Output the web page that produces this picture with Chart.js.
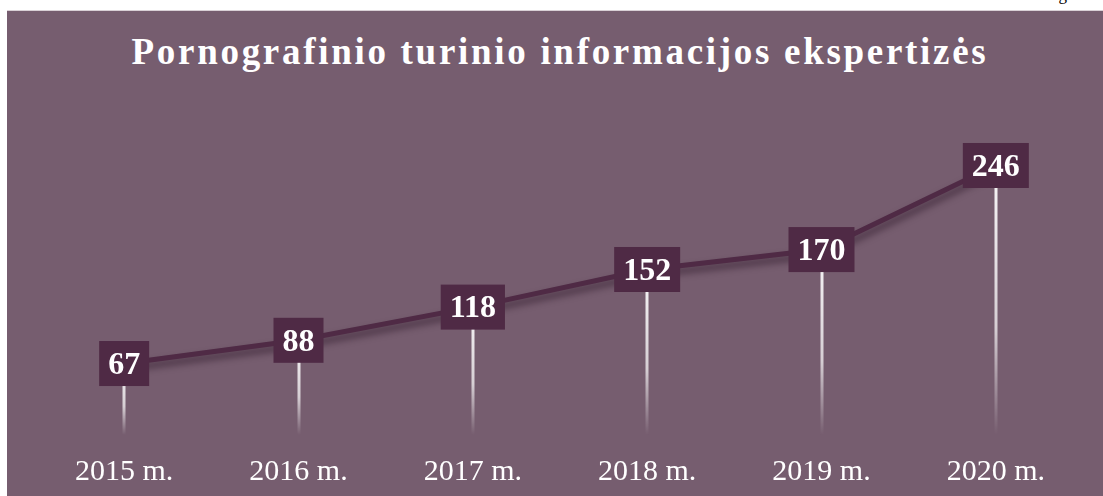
<!DOCTYPE html>
<html>
<head>
<meta charset="utf-8">
<script src="https://cdn.jsdelivr.net/npm/chart.js@4"></script>
<style>
  html, body { margin: 0; padding: 0; background: #fff; }
  body { width: 1103px; height: 496px; position: relative; overflow: hidden; }
  #panel { position: absolute; left: 7px; top: 10px; width: 1096px; height: 486px; background: #765d6f; border-top: 1px solid #d9d0d6; box-sizing: border-box; }
  #wrap { position: absolute; left: 0; top: 0; width: 1103px; height: 496px; }
  #title { position: absolute; left: 12px; width: 1096px; top: 33px; line-height: 37px; text-align: center; color: #fff;
    font-family: "Liberation Serif", "Times New Roman", serif; font-weight: bold; font-size: 37px; letter-spacing: 2.7px; }
  #corner { position: absolute; right: 2px; top: -15px; font-family: "Liberation Serif", serif; font-size: 17px; color: #000; }
</style>
</head>
<body>
<div id="corner">1 diagrama</div>
<div id="panel"></div>
<div id="title">Pornografinio turinio informacijos ekspertizės</div>
<div id="wrap"><canvas id="chart" width="1103" height="496"></canvas></div>
<script>
const years = ["2015 m.", "2016 m.", "2017 m.", "2018 m.", "2019 m.", "2020 m."];
const values = [67, 88, 118, 152, 170, 246];

const lineColor = "#4f2a45";

// drop lines from each point down to the bottom of the plot, plus the value boxes
const markers = {
  id: "markers",
  beforeDatasetsDraw(chart) {
    const ctx = chart.ctx;
    const meta = chart.getDatasetMeta(0);
    const bottom = chart.chartArea.bottom;
    ctx.save();
    meta.data.forEach(pt => {
      const g = ctx.createLinearGradient(0, pt.y, 0, bottom);
      g.addColorStop(0, "rgba(255,255,255,0.95)");
      g.addColorStop(0.6, "rgba(255,255,255,0.7)");
      g.addColorStop(1, "rgba(255,255,255,0)");
      ctx.fillStyle = g;
      ctx.fillRect(Math.round(pt.x) - 1.5, pt.y, 3, bottom - pt.y);
    });
    ctx.restore();
  },
  beforeDatasetDraw(chart) {
    const ctx = chart.ctx;
    ctx.save();
    ctx.shadowColor = "rgba(30,10,25,0.55)";
    ctx.shadowBlur = 7;
    ctx.shadowOffsetX = 2;
    ctx.shadowOffsetY = 5;
  },
  afterDatasetDraw(chart) {
    chart.ctx.restore();
  },
  afterDatasetsDraw(chart) {
    const ctx = chart.ctx;
    const meta = chart.getDatasetMeta(0);
    ctx.save();
    ctx.font = "bold 32px 'Liberation Serif', 'Times New Roman', serif";
    ctx.textAlign = "center";
    ctx.textBaseline = "middle";
    meta.data.forEach((pt, i) => {
      const txt = String(values[i]);
      const w = ctx.measureText(txt).width + 18;
      const h = 45;
      ctx.fillStyle = lineColor;
      ctx.fillRect(pt.x - w / 2, pt.y - h / 2, w, h);
      ctx.fillStyle = "#fff";
      ctx.fillText(txt, pt.x, pt.y + 2);
    });
    ctx.restore();
  }
};

new Chart(document.getElementById("chart").getContext("2d"), {
  type: "line",
  data: {
    labels: years,
    datasets: [{
      data: values,
      borderColor: lineColor,
      borderWidth: 5,
      pointRadius: 0,
      tension: 0,
      fill: false
    }]
  },
  options: {
    responsive: false,
    animation: false,
    layout: { padding: { left: 37, right: 20, top: 100, bottom: 0 } },
    plugins: { legend: { display: false }, title: { display: false }, tooltip: { enabled: false } },
    scales: {
      x: {
        offset: true,
        grid: { display: false },
        border: { display: false },
        ticks: { color: "#fff", padding: 11, font: { family: "'Liberation Serif', 'Times New Roman', serif", size: 30 } },
        afterFit(scale) { scale.height = 61; }
      },
      y: { display: false, min: 2.4, max: 305.2 }
    }
  },
  plugins: [markers]
});
</script>
</body>
</html>
